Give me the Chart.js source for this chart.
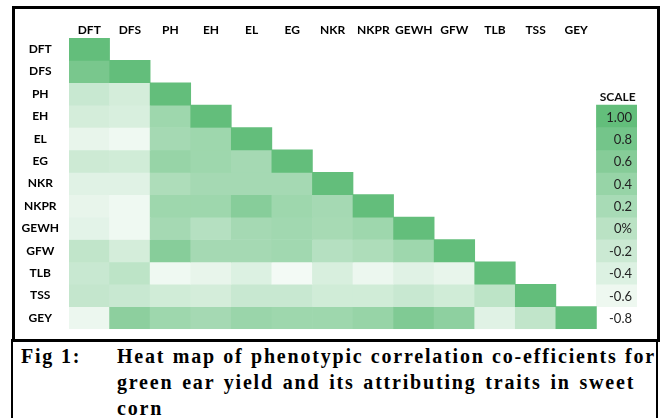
<!DOCTYPE html>
<html>
<head>
<meta charset="utf-8">
<script src="https://cdn.jsdelivr.net/npm/chart.js@4.4.1/dist/chart.umd.min.js"></script>
<style>
    body { margin: 0; background: #fff; }
    #wrap { position: relative; width: 661px; height: 418px; overflow: hidden; }
    #chartBox {
        position: absolute; left: 12px; top: 6px; width: 648px; height: 336px;
        box-sizing: border-box; border: 3px solid #000;
    }
    #captionBox {
        position: absolute; left: 11px; top: 339px; width: 647px; height: 100px;
        box-sizing: border-box; border: 2px solid #000; border-top-width: 3px;
    }
    #heatmap { position: absolute; left: 0; top: 0; z-index: 2; }
    .caption {
        position: absolute; top: 343px; font-family: "Liberation Serif", "Times New Roman", serif;
        font-weight: bold; font-size: 20px; line-height: 26px; letter-spacing: 1.8px; color: #000;
    }
    #figNo { left: 21px; }
    #figText { left: 117px; width: 539px; }
    #figText div { white-space: nowrap; }
    #figText .first { text-align: justify; text-align-last: justify; white-space: normal; }
</style>
</head>
<body>
<div id="wrap">
    <div id="chartBox"></div>
    <div id="captionBox"></div>
    <canvas id="heatmap" width="661" height="418"></canvas>
    <div class="caption" id="figNo">Fig 1:</div>
    <div class="caption" id="figText">
        <div class="first">Heat map of phenotypic correlation co-efficients for</div>
        <div style="word-spacing: 2px">green ear yield and its attributing traits in sweet</div>
        <div>corn</div>
    </div>
</div>
<script>
document.addEventListener('DOMContentLoaded', function () {
    // traits (rows and columns of the matrix)
    const traits = ['DFT', 'DFS', 'PH', 'EH', 'EL', 'EG', 'NKR', 'NKPR', 'GEWH', 'GFW', 'TLB', 'TSS', 'GEY'];

    // lower triangle of the phenotypic correlation matrix
    const corrDFT  = [1];
    const corrDFS  = [0.75, 1];
    const corrPH   = [-0.17, -0.30, 1];
    const corrEH   = [-0.30, -0.35, 0.32, 1];
    const corrEL   = [-0.53, -0.62, 0.24, 0.32, 1];
    const corrEG   = [-0.22, -0.26, 0.40, 0.32, 0.24, 1];
    const corrNKR  = [-0.44, -0.44, 0.14, 0.24, 0.24, 0.24, 1];
    const corrNKPR = [-0.53, -0.62, 0.32, 0.32, 0.58, 0.32, 0.24, 1];
    const corrGEWH = [-0.48, -0.62, 0.24, 0.05, 0.24, 0.28, 0.22, 0.32, 1];
    const corrGFW  = [-0.08, -0.30, 0.58, 0.24, 0.24, 0.28, 0.05, 0.14, 0.32, 1];
    const corrTLB  = [-0.17, -0.04, -0.62, -0.53, -0.40, -0.66, -0.35, -0.58, -0.44, -0.53, 1];
    const corrTSS  = [-0.12, -0.17, -0.26, -0.30, -0.17, -0.17, -0.26, -0.26, -0.17, -0.26, -0.04, 1];
    const corrGEY  = [-0.58, 0.52, 0.32, 0.24, 0.36, 0.32, 0.32, 0.40, 0.66, 0.50, -0.44, -0.08, 1];
    const corrRows = [corrDFT, corrDFS, corrPH, corrEH, corrEL, corrEG, corrNKR, corrNKPR,
                      corrGEWH, corrGFW, corrTLB, corrTSS, corrGEY];

    // colour scale key
    const scaleValues = [1, 0.8, 0.6, 0.4, 0.2, 0, -0.2, -0.4, -0.6, -0.8];
    const scaleLabels = ['1.00', '0.8', '0.6', '0.4', '0.2', '0%', '-0.2', '-0.4', '-0.6', '-0.8'];

    const scaleMin = -0.8, scaleMax = 1;

    // white -> Excel green
    function cellColor(v) {
        const t = Math.max(0, Math.min(1, (v - scaleMin) / (scaleMax - scaleMin)));
        const r = Math.round(255 * (1 - t) + 99 * t);
        const g = Math.round(255 * (1 - t) + 190 * t);
        const b = Math.round(255 * (1 - t) + 123 * t);
        return `rgb(${r}, ${g}, ${b})`;
    }

    const columns = traits.concat(['']); // extra column holds the scale key
    const keyStartRow = traits.length - scaleValues.length;

    const datasets = traits.map(function (trait, i) {
        return {
            label: trait,
            data: columns.map((c, j) => j <= i && j < traits.length ? [i, i + 1] : null),
            backgroundColor: columns.map((c, j) => j <= i && j < traits.length ? cellColor(corrRows[i][j]) : 'transparent'),
            grouped: false,
            barPercentage: 1,
            categoryPercentage: 1,
            borderWidth: 0
        };
    });

    // scale key cells, one small dataset each so they sit in the last column
    scaleValues.forEach(function (v, k) {
        const row = keyStartRow + k;
        datasets.push({
            label: 'key' + k,
            data: columns.map((c, j) => j === traits.length ? [row, row + 1] : null),
            backgroundColor: cellColor(v),
            grouped: false,
            barPercentage: 1,
            categoryPercentage: 1,
            borderWidth: 0
        });
    });

    const keyLabels = {
        id: 'keyLabels',
        afterDatasetsDraw(chart) {
            const x = chart.scales.x, y = chart.scales.y;
            const ctx = chart.ctx;
            const colRight = x.getPixelForValue(traits.length) + (x.getPixelForValue(1) - x.getPixelForValue(0)) / 2;
            const colCenter = x.getPixelForValue(traits.length);
            ctx.save();
            ctx.fillStyle = '#222';
            ctx.font = '13px Lato';
            ctx.textAlign = 'right';
            ctx.textBaseline = 'middle';
            scaleLabels.forEach(function (lab, k) {
                ctx.fillText(lab, colRight - 5, y.getPixelForValue(keyStartRow + k + 0.5) + 1);
            });
            ctx.fillStyle = '#111';
            ctx.font = 'bold 12px Lato';
            ctx.textAlign = 'center';
            ctx.fillText('SCALE', colCenter + 1, y.getPixelForValue(keyStartRow - 0.5) + 3);
            ctx.restore();
        }
    };

    new Chart(document.getElementById('heatmap').getContext('2d'), {
        type: 'bar',
        data: { labels: columns, datasets: datasets },
        options: {
            responsive: false,
            animation: false,
            layout: { padding: { left: 0, top: 0, right: 24, bottom: 89 } },
            plugins: { legend: { display: false }, tooltip: { enabled: false } },
            scales: {
                x: {
                    position: 'top',
                    grid: { display: false },
                    border: { display: false },
                    ticks: {
                        color: '#000',
                        padding: -7,
                        maxRotation: 0,
                        autoSkip: false,
                        font: { family: 'Lato', size: 12, weight: 'bold' }
                    },
                    afterFit: function (scale) { scale.height = 38; }
                },
                y: {
                    reverse: true,
                    min: 0,
                    max: traits.length,
                    grid: { display: false },
                    border: { display: false },
                    afterBuildTicks: function (scale) {
                        scale.ticks = traits.map((t, i) => ({ value: i + 0.5 }));
                    },
                    ticks: {
                        color: '#000',
                        padding: 2,
                        crossAlign: 'center',
                        font: { family: 'Lato', size: 12, weight: 'bold' },
                        callback: function (value) { return traits[Math.floor(value)]; }
                    },
                    afterFit: function (scale) { scale.width = 69; }
                }
            }
        },
        plugins: [keyLabels]
    });
});
</script>
</body>
</html>
